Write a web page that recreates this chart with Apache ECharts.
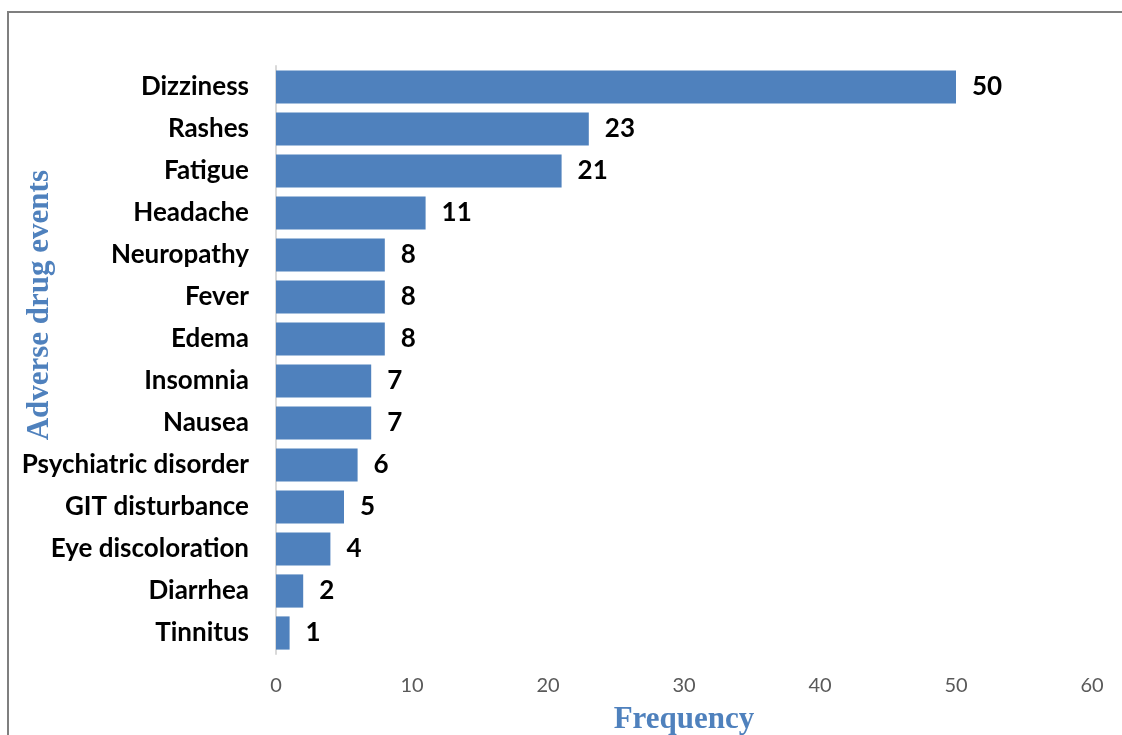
<!DOCTYPE html>
<html><head><meta charset="utf-8">
<script src="https://cdn.jsdelivr.net/npm/echarts@6/dist/echarts.min.js"></script>
<style>
html,body{margin:0;padding:0;background:#fff;}
#frame{position:absolute;left:7px;top:11px;width:1130px;height:740px;border:2px solid #7f7f7f;box-sizing:border-box;}
#c{position:absolute;left:0;top:0;width:1122px;height:735px;}
</style></head>
<body>
<div id="frame"></div>
<div id="c"></div>
<script>
const categories = ["Dizziness","Rashes","Fatigue","Headache","Neuropathy","Fever","Edema","Insomnia","Nausea","Psychiatric disorder","GIT disturbance","Eye discoloration","Diarrhea","Tinnitus"];
const values = [50,23,21,11,8,8,8,7,7,6,5,4,2,1];
const xTicks = [0,10,20,30,40,50,60];
const xTitle = 'Frequency';
const yTitle = 'Adverse drug events';

const chart = echarts.init(document.getElementById('c'), null, {renderer:'canvas'});
chart.setOption({
  backgroundColor: 'transparent',
  animation: false,
  grid: {left: 276, right: 30, top: 66, bottom: 81, containLabel: false, outerBoundsMode: 'none'},
  xAxis: {
    type: 'value', min: xTicks[0], max: xTicks[xTicks.length-1], interval: xTicks[1]-xTicks[0],
    axisLine: {show: false}, axisTick: {show: false}, splitLine: {show: false},
    axisLabel: {color: '#595959', fontSize: 20, fontFamily: 'Lato', margin: 22},
    name: xTitle, nameLocation: 'middle', nameGap: 50,
    nameTextStyle: {color: '#4F81BD', fontSize: 31, fontWeight: 'bold', fontFamily: 'Liberation Serif'}
  },
  yAxis: {
    type: 'category', data: categories, inverse: true,
    axisLine: {show: true, lineStyle: {color: '#d9d9d9', width: 2}},
    axisTick: {show: false},
    axisLabel: {color: '#000', fontSize: 26, fontWeight: 'bold', fontFamily: 'Lato', margin: 27}
  },
  graphic: [{
    type: 'text', left: 24, top: 170,
    style: {text: yTitle, fill: '#4F81BD', font: 'bold 31px "Liberation Serif"'},
    rotation: Math.PI/2, originX: 0, originY: 0
  }],
  series: [{
    type: 'bar', data: values, barCategoryGap: '21%',
    itemStyle: {color: '#4F81BD'},
    label: {show: true, position: 'right', distance: 16, color: '#000', fontSize: 26, fontWeight: 'bold', fontFamily: 'Lato'}
  }]
});
</script>
</body></html>
